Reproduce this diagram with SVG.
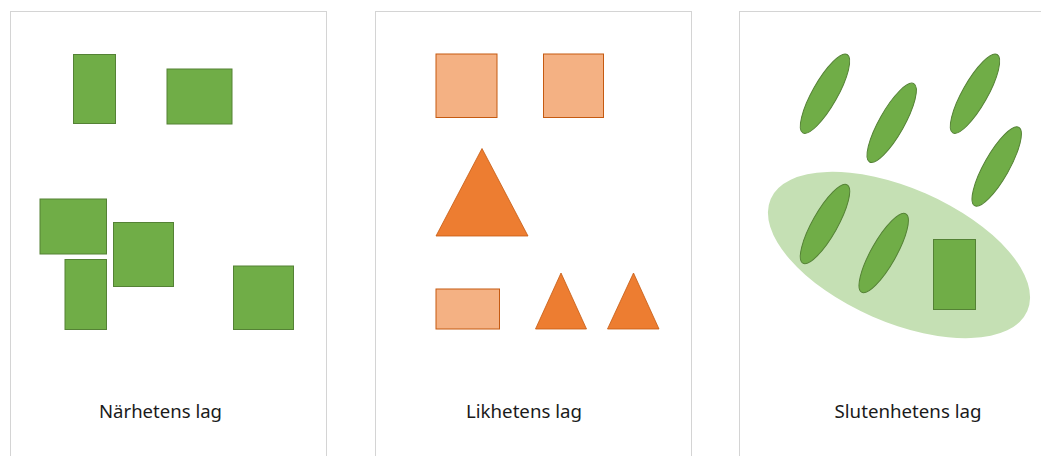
<svg xmlns="http://www.w3.org/2000/svg" width="1041" height="456" viewBox="0 0 1041 456">
  <style>
    .panel { fill: #ffffff; stroke: #d4d4d4; stroke-width: 1; }
    .g { fill: #70ad47; stroke: #548235; stroke-width: 1; }
    .lo { fill: #f4b183; stroke: #c55a11; stroke-width: 1; }
    .o { fill: #ed7d31; stroke: #c55a11; stroke-width: 0.8; }
    .lg { fill: #c5e0b4; stroke: none; }
    .lbl { font-family: "Noto Sans", "Open Sans", "Liberation Sans", sans-serif; font-size: 18px; fill: #1a1a1a; text-anchor: middle; }
  </style>
  <rect width="1041" height="456" fill="#ffffff"/>

  <g id="panel-narhet">
    <rect class="panel" x="10.5" y="11.5" width="316" height="460"/>
    <rect class="g" x="73.5" y="54.5" width="42" height="69"/>
    <rect class="g" x="167" y="69" width="65" height="55"/>
    <rect class="g" x="40" y="199" width="66.5" height="55"/>
    <rect class="g" x="65" y="259.5" width="41.5" height="70"/>
    <rect class="g" x="113.5" y="222.5" width="60" height="64"/>
    <rect class="g" x="233.5" y="266" width="60" height="63.5"/>
    <text class="lbl" x="160.5" y="418" textLength="123" lengthAdjust="spacingAndGlyphs">Närhetens lag</text>
  </g>

  <g id="panel-likhet">
    <rect class="panel" x="375.5" y="11.5" width="316" height="460"/>
    <rect class="lo" x="436" y="54" width="61" height="63.5"/>
    <rect class="lo" x="543.5" y="54" width="60" height="63.5"/>
    <polygon class="o" points="482,148.5 528,236 436,236"/>
    <rect class="lo" x="436" y="289" width="63.5" height="40"/>
    <polygon class="o" points="561,273 586.5,329 535.5,329"/>
    <polygon class="o" points="633.5,273 659,329 607.5,329"/>
    <text class="lbl" x="524" y="418" textLength="116" lengthAdjust="spacingAndGlyphs">Likhetens lag</text>
  </g>

  <g id="panel-slutenhet">
    <rect class="panel" x="739.5" y="11.5" width="320" height="460"/>
    <ellipse class="lg" cx="899" cy="255" rx="140" ry="67" transform="rotate(23.6 899 255)"/>
    <ellipse class="g" cx="825" cy="93.7" rx="45" ry="12.5" transform="rotate(-60.5 825 93.7)"/>
    <ellipse class="g" cx="891.7" cy="122.8" rx="45" ry="12.5" transform="rotate(-60.5 891.7 122.8)"/>
    <ellipse class="g" cx="975" cy="93.7" rx="45" ry="12.5" transform="rotate(-60.5 975 93.7)"/>
    <ellipse class="g" cx="996.7" cy="166.5" rx="45" ry="12.5" transform="rotate(-60.5 996.7 166.5)"/>
    <ellipse class="g" cx="825" cy="224" rx="45" ry="12.5" transform="rotate(-60.5 825 224)"/>
    <ellipse class="g" cx="883.7" cy="253" rx="45" ry="12.5" transform="rotate(-60.5 883.7 253)"/>
    <rect class="g" x="933.5" y="239.5" width="42" height="70"/>
    <text class="lbl" x="908" y="418" textLength="147" lengthAdjust="spacingAndGlyphs">Slutenhetens lag</text>
  </g>
</svg>
